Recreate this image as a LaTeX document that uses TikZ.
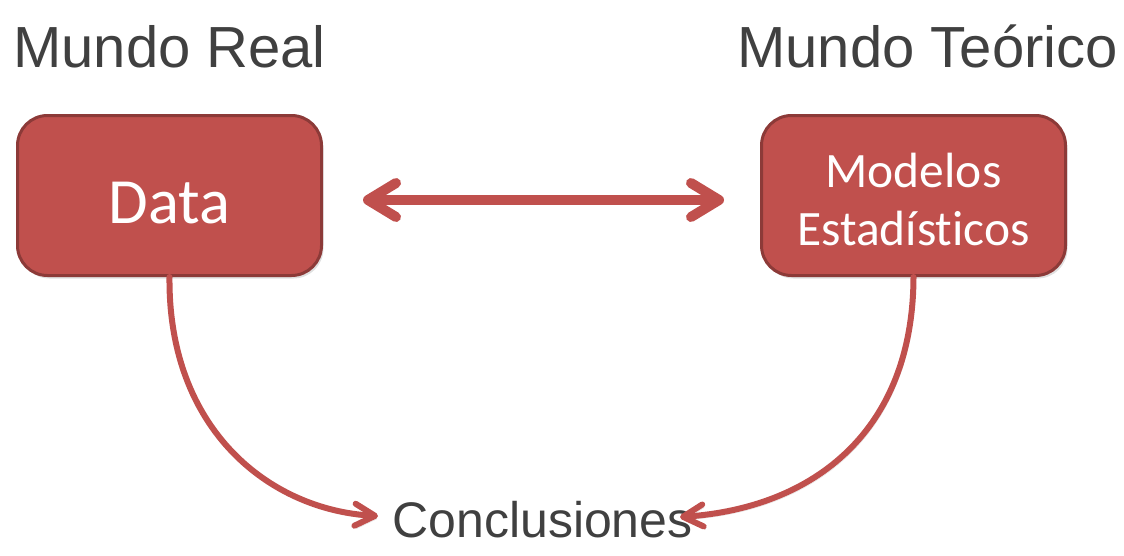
\documentclass[tikz,border=0pt]{standalone}
\usepackage{fontspec}
\setmainfont{Liberation Sans}
\newfontfamily\calibri[Ligatures={NoCommon}]{Carlito}
\usetikzlibrary{arrows.meta}
\definecolor{boxred}{HTML}{C0504D}
\definecolor{boxedge}{HTML}{8C3A38}
\definecolor{txtgray}{HTML}{404040}
\tikzset{
  redbox/.style={draw=boxedge, line width=3pt, fill=boxred, rounded corners=30pt,
    minimum width=304pt, minimum height=160pt, inner sep=0pt, text=white,
    preaction={fill=black, opacity=0.12, transform canvas={shift={(2pt,-3pt)}}}},
  title/.style={text=txtgray, inner sep=0pt, font=\fontsize{58}{68}\selectfont},
  biglink/.style={draw=boxred, line width=10pt, line cap=round,
    {Straight Barb[length=28pt, width=34pt, line cap=round, line join=round]}-{Straight Barb[length=28pt, width=34pt, line cap=round, line join=round]}},
  curvelink/.style={draw=boxred, line width=6pt, line cap=round,
    -{Straight Barb[length=20pt, width=22pt, line cap=round, line join=round]}},
  shade/.style={preaction={draw=black, opacity=0.12, transform canvas={shift={(2pt,-3pt)}}}}
}
\begin{document}
\begin{tikzpicture}[x=1pt, y=-1pt]
\useasboundingbox (0,0) rectangle (1124,555);

\node[title, anchor=base west] (real) at (13,67) {Mundo Real};
\node[title, anchor=base east] (teo) at (1118,67) {Mundo Teórico};

\node[redbox, font=\calibri\fontsize{64.5}{72}\selectfont, text height=56pt, text depth=0pt]
  (data) at (169.5,195.5) {Data};
\node[redbox, font=\calibri\fontsize{49.5}{58}\selectfont, align=center, text height=99pt, text depth=0pt]
  (mod) at (913.5,195.5) {Modelos\\Estadísticos};

\node[text=txtgray, inner sep=0pt, anchor=base, font=\fontsize{50}{60}\selectfont]
  (concl) at (542.5,537) {Conclusiones};

\coordinate (cl) at (378,516);
\coordinate (cr) at (680,517);

\draw[biglink, shade, shorten <=40pt, shorten >=36pt] ([yshift=-4.5pt]data.east) -- ([yshift=-4.5pt]mod.west);

\draw[curvelink, shade] (data.south) .. controls (168,430) and (270,510) .. (cl);
\draw[curvelink, shade] (mod.south) .. controls (913,430) and (815,508) .. (cr);
\end{tikzpicture}
\end{document}
